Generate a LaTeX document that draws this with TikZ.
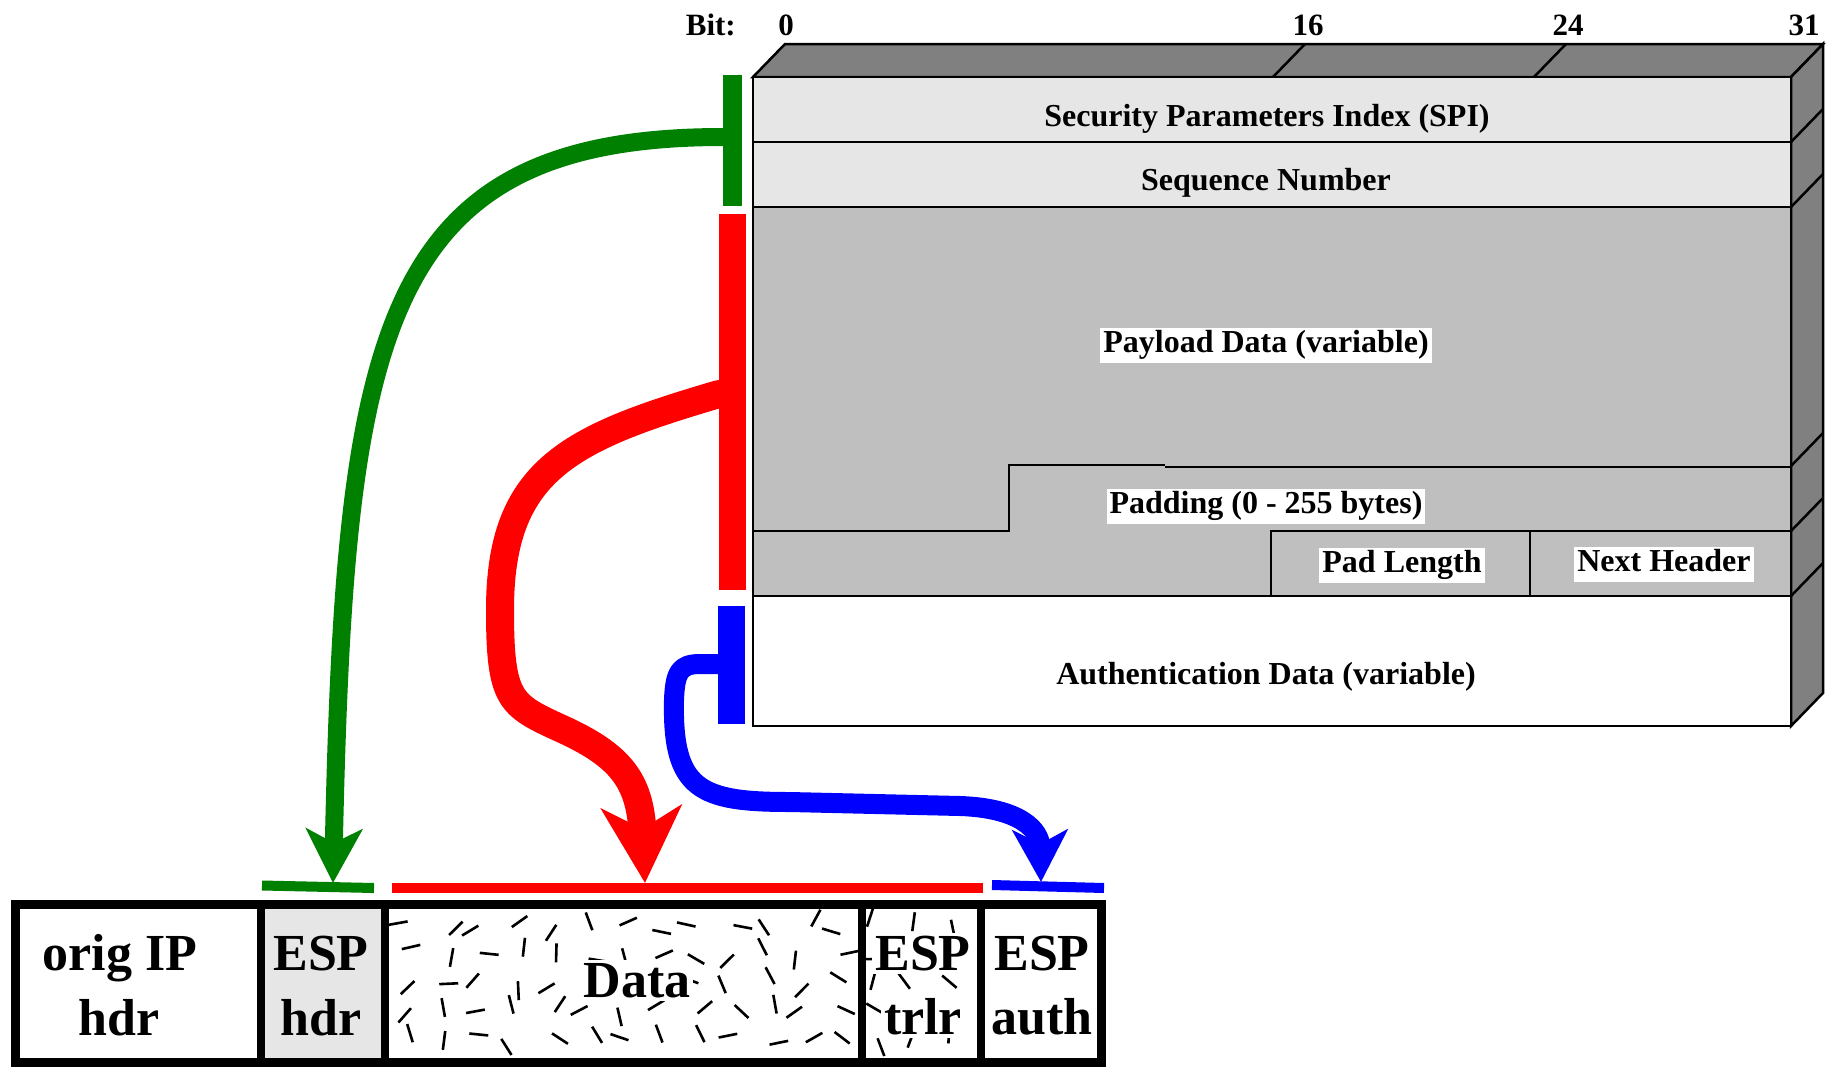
\documentclass[tikz,border=0pt]{standalone}
\usepackage{fontspec}
\setmainfont{Liberation Serif}
\usetikzlibrary{arrows.meta}
\definecolor{espgreen}{RGB}{0,128,0}
\definecolor{espred}{RGB}{255,0,0}
\definecolor{espblue}{RGB}{0,0,255}
\definecolor{lightfill}{RGB}{230,230,230}
\definecolor{midfill}{RGB}{191,191,191}
\definecolor{darkfill}{RGB}{128,128,128}
\begin{document}
\begin{tikzpicture}[x=1pt,y=-1pt,
  boxline/.style={line width=2.5pt, line join=miter},
  fieldlbl/.style={font=\fontsize{32}{36}\selectfont\bfseries, inner sep=0pt, anchor=base},
  whitelbl/.style={font=\fontsize{32}{36}\selectfont\bfseries, fill=white, inner sep=3pt, text height=22pt, text depth=7pt},
  bitlbl/.style={font=\fontsize{31}{36}\selectfont\bfseries, inner sep=0pt, anchor=base},
  celllbl/.style={font=\fontsize{52}{60}\selectfont\bfseries, inner sep=0pt, anchor=base},
  vbar/.style={draw=none, inner sep=0pt, outer sep=0pt},
  hbar/.style={line width=10pt},
  cellline/.style={line width=8pt},
  outerline/.style={line width=9pt, line join=miter},
  flow/.style={line cap=butt, line join=round}
]
\useasboundingbox (0,0) rectangle (1826,1066);

% ---------- 3D ESP packet box ----------
\filldraw[boxline, fill=darkfill] (753,77) -- (785,44) -- (1823,44) -- (1791,77) -- cycle;
\filldraw[boxline, fill=darkfill] (1791,77) -- (1823,44) -- (1823,693) -- (1791,726) -- cycle;
\draw[boxline] (1273,77) -- (1305,44);
\draw[boxline] (1534,77) -- (1566,44);
\foreach \yy in {142,207,466,531,596} {
  \draw[boxline] (1791,\yy) -- (1823,\yy-33);
}
\filldraw[boxline, fill=lightfill] (753,77) rectangle (1791,142);
\filldraw[boxline, fill=lightfill] (753,142) rectangle (1791,207);
\filldraw[boxline, fill=midfill] (753,207) rectangle (1791,596);
\filldraw[boxline, fill=white] (753,596) rectangle (1791,726);
\draw[boxline] (753,531) -- (1009,531) -- (1009,465) -- (1165,465);
\draw[boxline] (1165,467) -- (1791,467);
\draw[boxline] (1271,596) -- (1271,531) -- (1791,531);
\draw[boxline] (1530,531) -- (1530,596);

% bit labels
\node[bitlbl, anchor=base east] (bit) at (736,35) {Bit:};
\node[bitlbl] (b0) at (786,35) {0};
\node[bitlbl] (b16) at (1308,35) {16};
\node[bitlbl] (b24) at (1568,35) {24};
\node[bitlbl] (b31) at (1804,35) {31};

% field labels
\node[fieldlbl] (spi) at (1267,126) {Security Parameters Index (SPI)};
\node[fieldlbl] (seq) at (1266,190) {Sequence Number};
\node[whitelbl] (payload) at (1266,345) {Payload Data (variable)};
\node[whitelbl] (padding) at (1266,506) {Padding (0 - 255 bytes)};
\node[whitelbl] (padlen) at (1402,565) {Pad Length};
\node[whitelbl] (nexthdr) at (1664,564) {Next Header};
\node[fieldlbl] (auth) at (1266,684) {Authentication Data (variable)};

% ---------- bottom packet ----------
\fill[lightfill] (265,909) rectangle (381,1059);
\begin{scope}
  \clip (389,909) rectangle (977,1059);
  \pgfmathsetseed{23}
  \foreach \ii in {0,...,16} {
    \foreach \jj in {0,...,4} {
      \pgfmathsetmacro{\dashX}{398+\ii*36+rnd*22}
      \pgfmathsetmacro{\dashY}{917+\jj*29+rnd*16}
      \pgfmathsetmacro{\dashA}{rnd*180}
      \draw[line width=2.6pt] (\dashX,\dashY) ++(\dashA+180:9.5) -- ++(\dashA:19);
    }
  }
\end{scope}
\draw[cellline] (261,909) -- (261,1059);
\draw[cellline] (385,909) -- (385,1059);
\draw[cellline] (862,909) -- (862,1059);
\draw[cellline] (981,909) -- (981,1059);
\draw[outerline] (15.5,904.5) rectangle (1101,1062);

\node[celllbl] (origA) at (120,970) {orig IP};
\node[celllbl] (origB) at (119,1035) {hdr};
\node[celllbl] (esphA) at (321,970) {ESP};
\node[celllbl] (esphB) at (321,1035) {hdr};
\node[celllbl, fill=white, inner sep=3pt] (data) at (637,997) {Data};
\node[celllbl, fill=white, inner sep=3pt] (esptA) at (923,970) {ESP};
\node[celllbl, fill=white, inner sep=3pt] (esptB) at (923,1034) {trlr};
\node[celllbl] (espaA) at (1042,970) {ESP};
\node[celllbl] (espaB) at (1042,1034) {auth};

% ---------- connectors ----------
\coordinate (gstart) at (732,137);
\coordinate (rstart) at (732,394);
\coordinate (bstart) at (731,664);
\coordinate (gtip) at (333,883);
\coordinate (rtip) at (645,883);
\coordinate (btip) at (1041,882);

\draw[flow, espgreen, line width=18pt, -{Stealth[length=54pt,width=56pt,inset=14pt]}]
  (gstart) -- (723,137) .. controls (380,137) and (345,330) .. (gtip);
\draw[flow, espred, line width=28pt, -{Stealth[length=76pt,width=80pt,inset=22pt]}]
  (rstart) -- (719,394) .. controls (569,438) and (500,470) .. (500,610)
  .. controls (500,700) and (510,705) .. (560,728)
  .. controls (620,755) and (640,780) .. (rtip);
\draw[flow, espblue, line width=20pt, -{Stealth[length=52pt,width=55pt,inset=14pt]}]
  (bstart) -- (700,664) .. controls (680,664) and (675,672) .. (674,700)
  .. controls (672,790) and (700,802) .. (790,802)
  -- (960,806) .. controls (1020,808) and (1040,830) .. (btip);

% vertical bars at the ESP box
\node[vbar, fill=espgreen, minimum width=19pt, minimum height=131pt] (gbar) at (732.5,140.5) {};
\node[vbar, fill=espred, minimum width=27pt, minimum height=376pt] (rbar) at (732.5,402) {};
\node[vbar, fill=espblue, minimum width=27pt, minimum height=118pt] (bbar) at (731.5,665) {};

% horizontal bars above the packet
\coordinate (gL) at (262,885.5);
\coordinate (gR) at (374,888);
\coordinate (rL) at (392,888);
\coordinate (rR) at (983,888);
\coordinate (bL) at (992,885);
\coordinate (bR) at (1104,888);
\draw[hbar, espgreen] (gL) -- (gR);
\draw[hbar, espred] (rL) -- (rR);
\draw[hbar, espblue] (bL) -- (bR);
\end{tikzpicture}
\end{document}
